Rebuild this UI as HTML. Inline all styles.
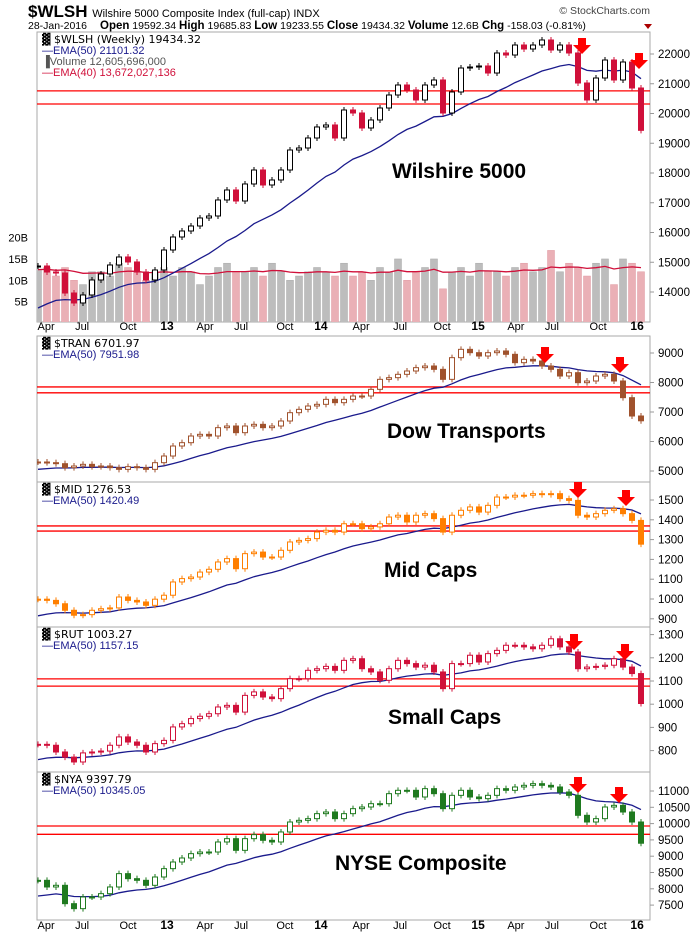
<!DOCTYPE html>
<html><head><meta charset="utf-8"><style>
html,body{margin:0;padding:0;background:#fff;}
svg{display:block;font-family:"Liberation Sans",Arial,sans-serif;}
</style></head><body>
<svg id="chart" width="700" height="936" viewBox="0 0 700 936" xmlns="http://www.w3.org/2000/svg">
<text x="28" y="17" font-size="17" font-weight="bold" fill="#000">$WLSH <tspan font-size="11" font-weight="normal">Wilshire 5000 Composite Index (full-cap)  INDX</tspan></text>
<text x="650" y="14" font-size="10.5" fill="#444" text-anchor="end">© StockCharts.com</text>
<text x="28" y="29" font-size="10.5" fill="#000">28-Jan-2016</text>
<text x="100" y="29" font-size="10.5" fill="#000"><tspan font-weight="bold" font-size="11.5">Open</tspan> 19592.34 <tspan font-weight="bold" font-size="11.5">High</tspan> 19685.83 <tspan font-weight="bold" font-size="11.5">Low</tspan> 19233.55 <tspan font-weight="bold" font-size="11.5">Close</tspan> 19434.32 <tspan font-weight="bold" font-size="11.5">Volume</tspan> 12.6B <tspan font-weight="bold" font-size="11.5">Chg</tspan> -158.03 (-0.81%)</text>
<polygon points="644,24 652,24 648,29" fill="#a00"/>
<g id="layer"></g>
</svg>
<script>
const tickLabels = ["Apr","Jul","Oct","13","Apr","Jul","Oct","14","Apr","Jul","Oct","15","Apr","Jul","Oct","16"];
const tickWeeks = [2.7,14.7,30,43,55.7,67.7,82.3,94.3,107.7,120.7,134.7,146.7,159.3,171.3,186.7,199.7];
const wlshCloses = [14874,14672,14639,13966,13631,13900,14404,14606,14908,15177,15009,14672,14404,14740,15412,15849,16051,16219,16488,16555,17093,17429,17059,17631,18101,17597,17765,18101,18773,18841,19177,19547,19614,19177,20118,20017,19513,19782,20185,20622,20958,20790,20454,20958,21126,20017,20723,21529,21563,21597,21361,22034,21966,22302,22168,22302,22471,22134,22302,22034,21025,20454,21193,21798,21126,21731,20857,19434];
const wlshVolumeB = [12.5,13,11,13,10,9,12,12,11,14,13,12,10,12,13,11,13,12,9,11,13,14,12,12,13,11,14,12,10,11,12,13,12,11,14,11,12,10,13,12,15,10,12,13,15,8,12,13,11,14,12,12,11,13,14,12,13,17,12,14,13,11,14,15,9,15,14,12];
const tranCloses = [5305,5282,5248,5113,5169,5226,5147,5169,5113,5056,5147,5113,5056,5282,5508,5847,5960,6186,6243,6186,6469,6525,6299,6525,6582,6469,6525,6695,6977,7090,7203,7260,7429,7316,7429,7542,7542,7768,8107,8164,8277,8390,8503,8559,8446,8107,8842,9124,9011,8898,9011,9068,8955,8672,8785,8729,8559,8446,8220,8333,7994,8051,8220,8277,8051,7486,6864,6702];
const midCloses = [999,993,976,943,918,921,943,951,955,1010,993,985,968,999,1019,1086,1103,1111,1136,1150,1187,1204,1153,1229,1237,1212,1212,1246,1288,1296,1305,1338,1347,1338,1380,1380,1355,1364,1380,1414,1423,1389,1423,1431,1406,1338,1423,1448,1465,1439,1473,1515,1515,1524,1524,1532,1527,1532,1507,1498,1423,1414,1431,1448,1456,1431,1397,1277];
const rutCloses = [827,823,794,772,751,790,794,798,823,859,837,823,794,830,844,902,916,938,948,959,988,995,966,1038,1053,1031,1024,1067,1110,1110,1146,1153,1163,1146,1189,1196,1153,1139,1103,1153,1189,1175,1160,1168,1139,1067,1175,1175,1211,1182,1218,1232,1254,1254,1247,1239,1254,1282,1247,1225,1153,1160,1163,1168,1196,1160,1132,1003];
const nyaCloses = [8260,8056,8107,7544,7391,7749,7749,7851,8056,8465,8311,8260,8107,8362,8618,8822,8945,9078,9129,9129,9436,9538,9180,9538,9661,9487,9436,9743,10049,10100,10152,10305,10356,10152,10305,10458,10509,10611,10611,10918,11021,11021,10816,11072,10918,10458,10867,11021,10816,10765,10867,11072,11021,11123,11174,11225,11174,11123,10969,10867,10254,10049,10152,10509,10560,10356,10049,9398];
const emaSeeds = [13463,5056,915,761,7780];
const supportLevels = [[20760,20320],[7850,7650],[1369,1343],[1109,1078],[9926,9671]];
const axisTicks = [[22000,21000,20000,19000,18000,17000,16000,15000,14000],[9000,8000,7000,6000,5000],[1500,1400,1300,1200,1100,1000,900],[1300,1200,1100,1000,900,800],[11000,10500,10000,9500,9000,8500,8000,7500]];
const volTicks = [20,15,10,5];

const NS="http://www.w3.org/2000/svg";
const layer=document.getElementById('layer');
function mk(tag,attrs,parent){const e=document.createElementNS(NS,tag);for(const k in attrs)e.setAttribute(k,attrs[k]);(parent||layer).appendChild(e);return e;}
const L=37,R=650;
const xIdx=i=>38+i*9;
const xWeek=w=>38+w*3;
const panels=[
 {top:32,bot:322,y0:54,v0:22000,k:0.02975,data:wlshCloses,up:"#000",dn:"#d0103a",name:"wilshire",title:"Wilshire 5000",tx:392,ty:178,arrows:[[582,38],[639,53]],leg:["$WLSH (Weekly) 19434.32","EMA(50) 21101.32"]},
 {top:336,bot:482,y0:353,v0:9000,k:0.0295,data:tranCloses,up:"#a0522d",dn:"#a0522d",name:"transports",title:"Dow Transports",tx:387,ty:438,arrows:[[545,347],[620,357]],leg:["$TRAN 6701.97","EMA(50) 7951.98"]},
 {top:482,bot:627,y0:500,v0:1500,k:0.198,data:midCloses,up:"#ff7f00",dn:"#ff7f00",name:"midcaps",title:"Mid Caps",tx:384,ty:577,arrows:[[578,482],[626,490]],leg:["$MID 1276.53","EMA(50) 1420.49"]},
 {top:627,bot:772,y0:681,v0:1100,k:0.232,data:rutCloses,up:"#d0103a",dn:"#d0103a",name:"smallcaps",title:"Small Caps",tx:388,ty:724,arrows:[[574,634],[625,644]],leg:["$RUT 1003.27","EMA(50) 1157.15"]},
 {top:772,bot:920,y0:791,v0:11000,k:0.0326,data:nyaCloses,up:"#1f7a1f",dn:"#1f7a1f",name:"nyse",title:"NYSE Composite",tx:335,ty:870,arrows:[[578,777],[619,787]],leg:["$NYA 9397.79","EMA(50) 10345.05"]}
];
const defs=mk('defs',{});
panels.forEach((p,pi)=>{
 const cp=mk('clipPath',{id:'clip'+pi},defs);mk('rect',{x:L,y:p.top,width:R-L,height:p.bot-p.top},cp);
 const yS=v=>p.y0+(p.v0-v)*p.k;
 const g=mk('g',{});
 
 
 const frame=mk('rect',{x:L,y:p.top,width:R-L,height:p.bot-p.top,fill:'none',stroke:'#aaa','stroke-width':1},g);
 
 
 const plot=mk('g',{'clip-path':'url(#clip'+pi+')'},g);
 if(pi===0){
  const vy=v=>323-v*4.27;
  wlshVolumeB.forEach((v,i)=>{
   const up=i===0||wlshCloses[i]>=wlshCloses[i-1];
   const b=mk('rect',{x:xIdx(i)-3.5,y:vy(v),width:7,height:323-vy(v),fill:up?'#bdbdbd':'#eab0b6',stroke:up?'#aaa':'#e09aa2','stroke-width':0.5},plot);
   
   
  });
  let e=wlshVolumeB[0];const a=2/41*3;let d='';
  wlshVolumeB.forEach((v,i)=>{e=i?e+a*(v-e):e;d+=(i?'L':'M')+xIdx(i)+','+vy(e).toFixed(1);});
  const vl=mk('path',{d:d,fill:'none',stroke:'#d0103a','stroke-width':1.3},plot);
  
  
  volTicks.forEach(t=>{const tt=mk('text',{x:28,y:vy(t)+4,'font-size':11,'text-anchor':'end',fill:'#000'},g);tt.textContent=t+'B';
   
   });
 }
 supportLevels[pi].forEach(v=>{const l=mk('line',{x1:L,x2:R,y1:yS(v),y2:yS(v),stroke:'#f00','stroke-width':1.3},plot);
  
  });
 let e=emaSeeds[pi];const al=2/(50/3+1);let d='';
 p.data.forEach((v,i)=>{e=i?e+al*(v-e):e;d+=(i?'L':'M')+xIdx(i)+','+yS(e).toFixed(1);});
 const el=mk('path',{d:d,fill:'none',stroke:'#1a1a8c','stroke-width':1.3},plot);
 
 
 p.data.forEach((c,i)=>{
  const o=i?p.data[i-1]:c;const up=c>=o;
  const y1=yS(Math.max(o,c)),y2=yS(Math.min(o,c));
  const x=xIdx(i);
  const w=mk('line',{x1:x,x2:x,y1:y1-3,y2:y2+3,stroke:up?p.up:p.dn,'stroke-width':1},plot);
  
  
  const r=mk('rect',{x:x-2.5,y:y1,width:5,height:Math.max(1,y2-y1),fill:up?'#fff':p.dn,stroke:up?p.up:p.dn,'stroke-width':1},plot);
  
  
 });
 p.arrows.forEach(a=>{const ar=mk('path',{d:`M${a[0]-4},${a[1]} h8 v7 h5 l-9,9 l-9,-9 h5 z`,fill:'#f00'},g);
  
  });
 const t=mk('text',{x:p.tx,y:p.ty,'font-size':21,'font-weight':'bold',fill:'#000'},g);t.textContent=p.title;
 
 
 const l1=mk('text',{x:42,y:p.top+11,'font-size':11,fill:'#000','font-family':'DejaVu Sans, sans-serif'},g);l1.textContent='\u2593 '+p.leg[0];
 
 
 const l2=mk('text',{x:42,y:p.top+22,'font-size':11,fill:'#1a1a8c'},g);l2.textContent='\u2014EMA'+p.leg[1].slice(3);
 
 
 if(pi===0){
  const l3=mk('text',{x:42,y:p.top+33,'font-size':11,fill:'#555'},g);l3.textContent='\u2590Volume 12,605,696,000';
  
  
  const l4=mk('text',{x:42,y:p.top+44,'font-size':11,fill:'#d0103a'},g);l4.textContent='\u2014EMA(40) 13,672,027,136';
  
  
 }
 axisTicks[pi].forEach(v=>{const y=yS(v);
  const tk=mk('line',{x1:R,x2:R+4,y1:y,y2:y,stroke:'#999'},g);
  
  
  const tt=mk('text',{x:R+8,y:y+4,'font-size':11.5,fill:'#000'},g);tt.textContent=v;
  
  });
});
[330,929].forEach(yy=>{tickLabels.forEach((lab,i)=>{
 const t=mk('text',{x:xWeek(tickWeeks[i]),y:yy,'font-size':lab.length===2?12:11,'font-weight':lab.length===2?'bold':'normal','text-anchor':'middle',fill:'#000'});
 t.textContent=lab;
 
 
});});
</script>
</body></html>
